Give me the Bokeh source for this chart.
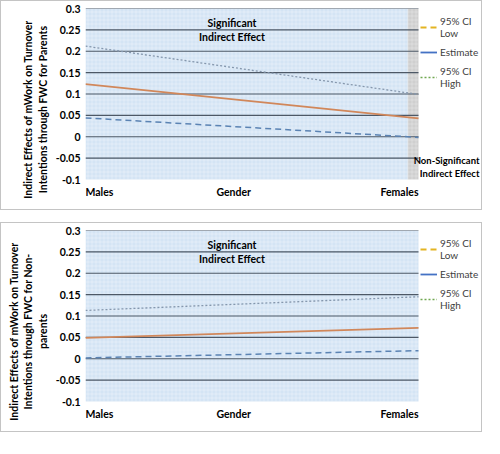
from bokeh.plotting import figure
from bokeh.models import Range1d, FixedTicker, Label, Legend, LegendItem
from bokeh.layouts import column
from bokeh.embed import file_html
from bokeh.resources import INLINE

# ---- data ----
genders = ["Males", "Females"]
gender_x = [0, 1]
y_ticks = [-0.1, -0.05, 0, 0.05, 0.1, 0.15, 0.2, 0.25, 0.3]
y_tick_labels = ["-0.1", "-0.05", "0", "0.05", "0.1", "0.15", "0.2", "0.25", "0.3"]

parents_low = [0.044, -0.0015]
parents_est = [0.123, 0.043]
parents_high = [0.212, 0.099]
parents_sig_end = 0.968   # region of significance boundary (x)

nonparents_low = [0.002, 0.019]
nonparents_est = [0.049, 0.072]
nonparents_high = [0.113, 0.145]
nonparents_sig_end = 1.0

y_min, y_max = -0.1, 0.3

FONT = "Lato"
GRID = "#4d5866"
SIG_BLUE = "#d4e4f4"
NONSIG_GRAY = "#cfcfcf"

W, H = 482, 210
LEFT, TOP = 84, 7
RIGHT_AREA = 64
PLOT_W, PLOT_H = W - LEFT - 1 - RIGHT_AREA, 171
FRAME_W = W - LEFT - 1
FRAME_H = H - TOP - 1
X_END = FRAME_W / PLOT_W
Y_START = y_max - (y_max - y_min) * FRAME_H / PLOT_H
PX = 1.0 / PLOT_W   # one pixel in x data units


def make_panel(low, est, high, sig_end, ylabel, show_nonsig):
    p = figure(width=W, height=H, output_backend="svg", toolbar_location=None,
               x_range=Range1d(0, X_END), y_range=Range1d(Y_START, y_max),
               min_border_left=LEFT, min_border_right=1,
               min_border_top=TOP, min_border_bottom=1,
               background_fill_color="white",
               border_fill_color="white", outline_line_color=None)
    p.styles = {"border": "1px solid #c4c4c4"}

    # region shading
    p.quad(left=[0], right=[sig_end], bottom=[y_min], top=[y_max],
           fill_color=SIG_BLUE, line_color=None,
           hatch_pattern="+", hatch_color="white", hatch_alpha=0.5,
           hatch_scale=4, hatch_weight=0.6)
    if sig_end < 1:
        p.quad(left=[sig_end], right=[1], bottom=[y_min], top=[y_max],
               fill_color=NONSIG_GRAY, line_color=None,
               hatch_pattern="+", hatch_color="white", hatch_alpha=0.4,
               hatch_scale=4, hatch_weight=0.6)

    # horizontal grid lines across the plot area only
    grid_vals = y_ticks[1:]
    p.segment(x0=[gender_x[0]] * len(grid_vals), x1=[gender_x[1]] * len(grid_vals),
              y0=grid_vals, y1=grid_vals, line_color=GRID, line_width=1.2)

    # axes
    p.xaxis.visible = False
    p.xgrid.visible = False
    p.ygrid.visible = False
    ya = p.yaxis[0]
    ya.ticker = FixedTicker(ticks=y_ticks)
    ya.major_label_overrides = {t: l for t, l in zip(y_ticks, y_tick_labels)}
    ya.axis_line_color = None
    ya.major_tick_line_color = None
    ya.minor_tick_line_color = None
    ya.major_tick_out = 0
    ya.major_tick_in = 0
    ya.major_label_standoff = 5
    ya.major_label_text_font = FONT
    ya.major_label_text_font_style = "bold"
    ya.major_label_text_font_size = "10.5px"
    ya.major_label_text_color = "black"
    ya.axis_label = ylabel
    ya.axis_label_text_font = FONT
    ya.axis_label_text_font_style = "bold"
    ya.axis_label_text_font_size = "10.5px"
    ya.axis_label_text_color = "black"
    ya.axis_label_standoff = 4

    # data lines
    p.line(gender_x, low, line_color="#5b83b3", line_width=1.5, line_dash="6 4")
    p.line(gender_x, est, line_color="#d1875a", line_width=1.8)
    p.line(gender_x, high, line_color="#8597ad", line_width=1.3, line_dash="2 2")

    # legend swatches (colours as in the original legend)
    l_low = p.line(gender_x, low, line_color="#e3b422", line_width=1.8, line_dash="6 4", visible=False)
    l_est = p.line(gender_x, est, line_color="#4472c4", line_width=1.8, visible=False)
    l_high = p.line(gender_x, high, line_color="#70a850", line_width=1.5, line_dash="2 2", visible=False)
    legend = Legend(items=[LegendItem(label="95% CI\nLow", renderers=[l_low]),
                           LegendItem(label="Estimate", renderers=[l_est]),
                           LegendItem(label="95% CI\nHigh", renderers=[l_high])],
                    location=(PLOT_W + 2, 121), border_line_color=None,
                    background_fill_alpha=0, margin=0, padding=1,
                    spacing=7, glyph_width=17, glyph_height=12,
                    label_standoff=3, label_text_font=FONT,
                    label_text_font_size="10px", label_text_color="#404040",
                    label_height=12)
    p.add_layout(legend, "center")

    # annotations
    txt = dict(text_font=FONT, text_font_style="bold", text_font_size="10.5px",
               text_color="black")
    p.add_layout(Label(x=0.44, y=0.25, text="Significant\nIndirect Effect",
                       text_align="center", text_baseline="middle", **txt))
    y_lab = y_min - 0.03
    p.add_layout(Label(x=gender_x[0], y=y_lab, text=genders[0], text_align="left",
                       text_baseline="middle", **txt))
    p.add_layout(Label(x=gender_x[1], y=y_lab, text=genders[1], text_align="right",
                       text_baseline="middle", **txt))
    p.add_layout(Label(x=0.445, y=y_lab, text="Gender", text_align="center",
                       text_baseline="middle", **txt))
    if show_nonsig:
        p.add_layout(Label(x=X_END - 3 * PX, y=-0.07,
                           text="Non-Significant\nIndirect Effect",
                           text_align="right", text_baseline="middle",
                           text_font=FONT, text_font_style="bold",
                           text_font_size="9.5px", text_color="black"))
    return p


p1 = make_panel(parents_low, parents_est, parents_high, parents_sig_end,
                "Indirect Effects of mWork on Turnover\nIntentions through FWC for Parents",
                True)
p2 = make_panel(nonparents_low, nonparents_est, nonparents_high, nonparents_sig_end,
                "Indirect Effects of mWork on Turnover\nIntentions through FWC for Non-\nparents",
                False)

layout = column(p1, p2, spacing=12)
open("out.html", "w").write(file_html(layout, INLINE))
